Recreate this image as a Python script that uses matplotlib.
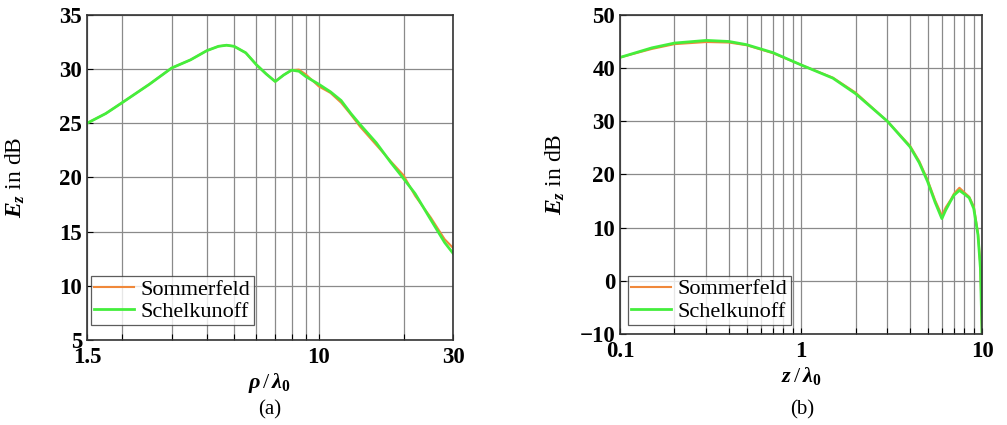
import numpy as np
import matplotlib.pyplot as plt
from matplotlib.ticker import FixedLocator, NullFormatter

plt.rcParams['font.family'] = ['Liberation Serif', 'DejaVu Serif']
plt.rcParams['mathtext.fontset'] = 'custom'
plt.rcParams['mathtext.rm'] = 'Liberation Serif'
plt.rcParams['mathtext.it'] = 'Liberation Serif:italic:bold'
plt.rcParams['mathtext.bf'] = 'Liberation Serif:bold'

# (a) field versus radial distance
rho = [1.5, 1.75, 2, 2.5, 3, 3.5, 4, 4.4, 4.7, 5, 5.5, 6, 6.5, 7, 7.5, 8, 8.5, 9,
       10, 11, 12, 13, 14, 16, 18, 20, 22, 25, 28, 30]
som_a = [25.0, 25.9, 26.9, 28.6, 30.1, 30.85, 31.7, 32.1, 32.2, 32.1, 31.5, 30.4,
         29.55, 28.85, 29.45, 29.9, 29.95, 29.5, 28.4, 27.8, 26.9, 25.8, 24.7, 23.0,
         21.5, 20.2, 18.3, 16.3, 14.3, 13.5]
sch_a = [25.0, 25.9, 26.9, 28.6, 30.1, 30.85, 31.7, 32.1, 32.2, 32.1, 31.5, 30.4,
         29.55, 28.85, 29.45, 29.9, 29.8, 29.3, 28.6, 27.9, 27.1, 25.9, 24.9, 23.2,
         21.4, 19.9, 18.5, 16.1, 14.0, 13.0]

# (b) field versus height
z = [0.1, 0.15, 0.2, 0.3, 0.4, 0.5, 0.7, 1, 1.5, 2, 3, 4, 4.5, 5, 5.5, 6, 6.3,
     6.7, 7, 7.5, 8, 8.5, 9, 9.5, 9.8, 10]
som_b = [42.0, 43.6, 44.5, 44.9, 44.8, 44.3, 42.8, 40.6, 38.2, 35.4, 30.0, 25.4,
         22.5, 19.0, 15.2, 12.3, 13.8, 15.2, 16.4, 17.5, 16.6, 15.8, 14.0, 9.0, 2.7, -10]
sch_b = [42.0, 43.8, 44.7, 45.2, 45.0, 44.4, 42.9, 40.6, 38.1, 35.2, 30.0, 25.2,
         22.2, 18.7, 14.8, 11.7, 13.3, 15.0, 16.1, 17.0, 16.3, 15.6, 13.6, 8.6, 2.3, -10]

orange = '#f0883a'
green = '#44ee3c'

fig = plt.figure(figsize=(10.07, 4.25), dpi=100)
ax1 = fig.add_axes([0.0864, 0.2, 0.3635, 0.765])
ax2 = fig.add_axes([0.6157, 0.214, 0.3595, 0.751])

ax1.plot(rho, som_a, color=orange, lw=1.5, label='Sommerfeld')
ax1.plot(rho, sch_a, color=green, lw=2, label='Schelkunoff')
ax1.set_xscale('log')
ax1.set_xlim(1.5, 30)
ax1.set_ylim(5, 35)
ax1.xaxis.set_major_locator(FixedLocator([1.5, 10, 30]))
ax1.xaxis.set_minor_locator(FixedLocator([2, 3, 4, 5, 6, 7, 8, 9, 20]))
ax1.set_xticklabels(['1.5', '10', '30'])
ax1.set_yticks(range(5, 36, 5))
ax1.set_xlabel(r'$\rho\,/\,\lambda_\mathbf{0}$', fontsize=16, labelpad=2)
ax1.yaxis.set_label_coords(-0.165, 0.5)
fig.text(0.268, 0.035, '(a)', ha='center', va='center', fontsize=15)

ax2.plot(z, som_b, color=orange, lw=1.5, label='Sommerfeld')
ax2.plot(z, sch_b, color=green, lw=2, label='Schelkunoff')
ax2.set_xscale('log')
ax2.set_xlim(0.1, 10)
ax2.set_ylim(-10, 50)
ax2.set_xticks([0.1, 1, 10])
ax2.set_xticklabels(['0.1', '1', '10'])
ax2.set_yticks(range(-10, 51, 10))
ax2.set_xlabel(r'$z\,/\,\lambda_\mathbf{0}$', fontsize=16, labelpad=2)
ax2.yaxis.set_label_coords(-0.146, 0.5)
fig.text(0.797, 0.035, '(b)', ha='center', va='center', fontsize=15)

for ax, anchor in ((ax1, (0.01, 0.045)), (ax2, (0.022, 0.028))):
    ax.grid(True, which='both', color='#8a8a8a', lw=0.9)
    ax.xaxis.set_minor_formatter(NullFormatter())
    ax.tick_params(which='both', direction='in', length=4, labelsize=16.5, width=0.8)
    ax.tick_params(axis='x', pad=5)
    for lbl in ax.get_xticklabels() + ax.get_yticklabels():
        lbl.set_fontweight('bold')
    for s in ax.spines.values():
        s.set_color('#333333')
        s.set_linewidth(1.2)
    ax.set_ylabel(r'$E_z$ in dB', fontsize=17)
    leg = ax.legend(loc='lower left', bbox_to_anchor=anchor, fontsize=16, frameon=True,
                    fancybox=False, borderaxespad=0, handlelength=1.8, handletextpad=0.3,
                    borderpad=0.15, labelspacing=0.08)
    leg.get_frame().set_edgecolor('#333333')
    leg.get_frame().set_linewidth(0.9)

fig.savefig('out.png', dpi=100)
